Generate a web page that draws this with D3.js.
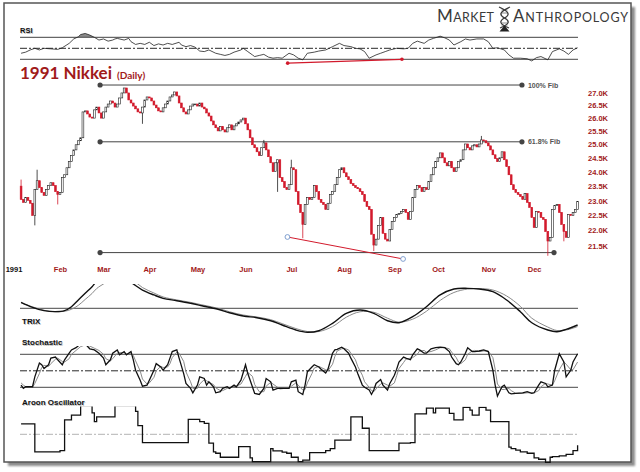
<!DOCTYPE html>
<html><head><meta charset="utf-8">
<script src="https://cdn.jsdelivr.net/npm/d3@7/dist/d3.min.js"></script>
<style>body{margin:0;background:#fff}svg{display:block}</style>
</head><body>
<svg id="c" width="640" height="472"></svg>
<script>
// ---------------- DATA ----------------
const firstDay = 2;
const firstOpen = 23500;
const closes = [
23040,22940,23110,23010,22910,22500,23380,23690,23450,23280,23180,23380,23520,23620,23520,23310,23210,
23280,23800,23900,24150,24370,24590,24800,24990,25140,25250,26240,26280,26160,26040,26000,26320,26430,26200,26000,
26240,26430,26550,26670,26590,26430,26550,26790,26990,27190,26990,26710,26590,26470,26360,26240,26200,26430,26710,26830,
26790,26670,26510,26400,26280,26240,26400,26550,26670,26830,26910,27030,26870,26590,26400,26240,26160,26320,26470,26550,26550,
26470,26590,26430,26360,26200,26080,25890,25740,25630,25510,25670,25550,25470,25630,25740,25550,25700,25780,25850,25930,26000,
25780,25550,25250,24990,24880,24730,24590,24880,25060,24800,24550,24330,24010,24330,24440,23800,23660,23450,23380,23550,
24150,24080,23310,22870,22600,22200,22870,23110,23040,23110,23520,23310,23040,22940,22870,22700,22910,23210,23310,23550,23800,24080,24150,
23970,23830,23730,23590,23520,23450,23410,23310,23210,22970,22800,22700,21880,21530,21720,22170,22430,21910,21720,21660,22040,22300,
22430,22530,22570,22630,22700,22600,22370,22630,23110,23380,23520,23450,23310,23450,23380,23660,23900,24150,24370,
24510,24690,24510,24330,24220,24370,24150,24010,24150,24370,24440,24800,25020,24880,24800,24950,24990,24910,25020,25170,25140,25060,
24950,24800,24620,24480,24370,24510,24730,24440,24190,23900,23550,23380,23280,23210,23140,23040,23240,22940,22770,22430,
22100,22630,22600,22430,22370,21970,21660,21780,22700,22840,22870,22600,22200,21970,21780,22530,22500,22600,22700,22970
];
// [day, high, low] for the visible long wicks
const wicks = [[2,23730,null],[8,null,22170],[9,24080,null],[18,null,22870],[55,null,25780],[108,25170,null],
  [114,null,23300],[120,24440,null],[125,null,21750],[156,null,21340],[203,25320,null],[232,null,21190],[239,null,21650]];

const monthStarts = [0,19,38,58,79,100,120,143,165,184,206,226];
const monthLabels = ['1991','Feb','Mar','Apr','May','Jun','Jul','Aug','Sep','Oct','Nov','Dec'];
const priceTicks = [21500,22000,22500,23000,23500,24000,24500,25000,25500,26000,26500,27000];

const fibLevels = [27310,25100,21290];
const fibLabels = ['100% Fib','61.8% Fib',''];
const fibStartDay = 36.5;
const fibEndDays = [220.7,220.7,234.7];
const priceTrend = [[118.3,21790],[168.8,21090]];

const rsiDays = [2,4,6,8,10,12,15,18,20,23,25,27,28,30,32,34,36,38,40,42,43,44,47,49,50,52,54,56,58,60,62,64,66,68,71,72,74,76,78,80,82,84,87,89,91,93,95,98,99,101,103,104,106,108,110,112,114,116,119,121,123,125,126,127,130,132,135,138,141,143,146,148,150,152,154,157,159,161,163,166,169,171,173,175,178,180,182,185,187,189,191,194,196,198,201,204,206,208,210,213,215,217,220,223,225,227,229,232,234,237,239,241,243,245];
const rsiVals = [41,43,47,50,47,50,49,48,51,59,67,71,75,77,74,70,65,67,63,65,67,68,65,68,62,57,59,57,61,55,58,56,59,57,61,56,53,55,52,45,44,47,41,39,37,39,43,47,50,44,38,35,37,39,34,32,33,32,41,38,32,29,35,41,43,45,47,53,59,55,53,50,49,44,32,38,41,44,47,50,49,50,59,63,59,65,68,72,69,65,56,62,67,65,67,67,62,50,51,47,38,32,32,31,27,33,35,29,44,49,45,39,47,51];
const rsiTrend = [[118.4,23],[168.3,30]];

const trixDays = [2,7,12,17,21,24,27,30,33,35,39,43,47,51,55,60,64,70,76,81,88,93,99,105,111,116,122,127,132,138,144,150,156,162,167,173,179,185,191,197,202,208,214,220,225,232,236,240,245];
const trixVals = [0.061,0.010,-0.024,-0.034,-0.024,0.016,0.084,0.152,0.219,0.27,0.31,0.33,0.31,0.246,0.185,0.135,0.101,0.077,0.051,0.026,-0.010,-0.045,-0.078,-0.095,-0.126,-0.169,-0.220,-0.243,-0.227,-0.152,-0.051,-0.017,-0.051,-0.126,-0.146,-0.085,0.016,0.135,0.195,0.202,0.195,0.168,0.084,-0.034,-0.146,-0.220,-0.237,-0.213,-0.169];
const trixSignal = [0.055,0.015,-0.020,-0.035,-0.030,-0.010,0.030,0.090,0.150,0.200,0.26,0.31,0.32,0.28,0.21,0.155,0.115,0.085,0.060,0.035,0.000,-0.035,-0.068,-0.088,-0.115,-0.155,-0.205,-0.235,-0.235,-0.185,-0.090,-0.035,-0.040,-0.100,-0.140,-0.110,-0.030,0.080,0.160,0.195,0.200,0.185,0.125,0.020,-0.100,-0.190,-0.225,-0.220,-0.185];

const stochDays = [2,3,4,7,8,10,11,12,14,15,17,18,20,21,23,24,26,28,30,32,34,36,38,39,41,42,44,45,47,48,50,51,52,54,55,57,58,60,61,63,64,66,67,68,70,71,73,74,76,77,79,80,82,83,84,86,87,89,90,92,93,95,96,98,100,101,103,104,106,108,109,111,112,114,115,117,119,120,122,123,125,126,127,129,130,132,133,135,136,138,139,140,142,143,145,146,148,149,151,152,154,155,156,157,159,160,162,163,165,166,167,169,170,172,173,175,176,178,179,181,183,185,187,189,190,192,193,194,196,197,199,200,202,204,206,208,209,210,212,213,215,216,218,221,223,225,226,228,229,231,232,234,235,237,239,240,242,243,245];
const stochK = [24,18,21,21,39,64,61,54,61,73,75,70,61,70,82,88,92,99,99,90,88,82,73,61,70,82,88,79,85,79,85,70,51,33,22,24,33,51,63,57,51,61,73,85,88,73,45,27,18,10,24,39,36,24,30,21,10,12,18,21,18,24,21,33,61,45,21,9,7,18,36,30,15,18,18,18,18,30,33,12,7,24,48,57,61,57,53,46,53,82,88,89,93,90,82,73,57,45,24,20,15,7,15,27,34,24,15,27,42,53,66,75,73,70,79,90,88,82,82,90,92,93,92,85,75,63,61,66,82,92,85,85,86,88,85,51,24,4,21,24,10,8,9,10,12,9,10,24,30,27,21,24,51,81,66,39,51,66,81];
const stochD = [28,24,21,20,27,45,56,60,58,63,71,73,67,66,72,80,87,94,97,95,91,87,80,72,68,72,82,83,83,81,82,78,68,50,35,26,28,38,50,58,56,57,63,74,84,82,67,48,30,18,18,26,34,32,29,25,19,14,14,18,19,21,22,26,40,47,40,25,12,12,22,29,26,20,17,18,18,22,28,24,15,16,28,45,55,58,56,52,50,62,76,86,90,91,88,82,70,58,42,30,20,14,12,17,26,28,24,22,28,41,54,65,71,73,74,80,86,87,84,85,88,92,92,90,84,74,66,63,70,80,86,87,85,86,86,74,53,26,16,16,18,14,9,9,10,10,10,14,21,27,26,24,32,52,66,62,52,52,66];

const aroonDays = [2,8,19,21,24,28,33,34,35,43,52,53,55,75,80,82,84,86,87,89,97,102,103,111,112,116,118,120,123,125,128,135,137,139,146,151,154,167,172,174,179,182,183,189,191,195,198,199,202,205,207,215,216,218,220,223,226,228,231,233,234,237,240,243,245];
const aroonVals = [36,-61,-57,50,67,100,75,44,61,100,80,30,-29,52,44,38,-31,-61,-66,-80,-43,-82,-95,-50,-58,-62,-66,-80,-95,-90,-64,-57,-50,-20,61,21,-57,-31,-29,71,91,75,91,73,50,94,84,67,94,84,44,-45,-50,-55,-61,-66,-82,-87,-98,-80,-78,-75,-70,-57,-38];

// ---------------- DRAW ----------------
const svg = d3.select('#c');
const RED = '#d21a2c', DARKRED = '#a11a1a', INK = '#333';
const defs = svg.append('defs');
defs.append('filter').attr('id','blur').append('feGaussianBlur').attr('stdDeviation',1.2);
function clip(id,x0,y0,w,h){defs.append('clipPath').attr('id',id).append('rect').attr('x',x0).attr('y',y0).attr('width',w).attr('height',h);}

// frame
svg.append('rect').attr('x',8).attr('y',7).attr('width',627).attr('height',459).attr('fill','#8c8c8c').attr('filter','url(#blur)');
svg.append('rect').attr('x',4).attr('y',3).attr('width',627).attr('height',459).attr('fill','#fff').attr('stroke','#555').attr('stroke-width',1.5);

const x = d3.scaleLinear().domain([0,245]).range([16.5,577.6]);
const yP = d3.scaleLog().domain([21500,27000]).range([246,92.7]);
const yR = d3.scaleLinear().domain([30,70]).range([59.3,37.3]);
const yT = d3.scaleLinear().domain([-0.25,0.25]).range([333,283.6]);
const yS = d3.scaleLinear().domain([20,80]).range([387.3,354.3]);
const yA = d3.scaleLinear().domain([-100,100]).range([463,405.6]);
const gx0 = 20, gx1 = 578;

function guide(y, dash, color, w){
  svg.append('line').attr('x1',gx0).attr('x2',gx1).attr('y1',y).attr('y2',y)
    .attr('stroke',color||INK).attr('stroke-width',w||0.9).attr('stroke-dasharray',dash||null);
}
function label(t, x0, y0, size){
  svg.append('text').attr('x',x0+0.8).attr('y',y0+0.8).text(t).attr('font-family','Liberation Sans, Arial, sans-serif')
    .attr('font-weight','bold').attr('font-size',size).attr('fill','#c4c4c4');
  svg.append('text').attr('x',x0).attr('y',y0).text(t).attr('font-family','Liberation Sans, Arial, sans-serif')
    .attr('font-weight','bold').attr('font-size',size).attr('fill','#111');
}

// logo
const logoFont = 'Lato, "Noto Sans", sans-serif';
const lt1 = svg.append('text').attr('x',437).attr('y',22).attr('font-family',logoFont).attr('fill','#3a3a3a')
  .attr('textLength',57).attr('lengthAdjust','spacing');
lt1.append('tspan').attr('font-size',17).text('M');
lt1.append('tspan').attr('font-size',12.5).text('ARKET');
const lt2 = svg.append('text').attr('x',513).attr('y',22).attr('font-family',logoFont).attr('fill','#3a3a3a')
  .attr('textLength',115).attr('lengthAdjust','spacing');
lt2.append('tspan').attr('font-size',17).text('A');
lt2.append('tspan').attr('font-size',12.5).text('NTHROPOLOGY');
const dna = svg.append('g').attr('fill','none').attr('stroke','#3a3a3a').attr('stroke-width',1.3);
dna.append('path').attr('d','M499,7 C510,12 510,15 504.5,18 C499,21 499,24 509,28');
dna.append('path').attr('d','M510,7 C499,12 499,15 504.5,18 C510,21 510,24 500,28');
[10,13,23,26].forEach(yy=>dna.append('line').attr('x1',501.5).attr('x2',507.5).attr('y1',yy).attr('y2',yy).attr('stroke-width',0.6));
svg.append('path').attr('d','M499.5,31.5 L509.5,31.5 L504.5,25.5 Z').attr('fill','#222');

// ---- RSI panel
label('RSI',20,33,7.5);
clip('cRfill',15,20,570,yR(70)-20);
svg.append('path').datum(rsiDays.map((d,i)=>[d,rsiVals[i]]))
  .attr('clip-path','url(#cRfill)').attr('fill','#8a8a8a')
  .attr('d',d3.area().x(d=>x(d[0])).y0(yR(70)).y1(d=>yR(d[1])));
guide(yR(70)); guide(yR(30)); guide(yR(50),'7,2,2,2','#111');
svg.append('path').datum(rsiDays.map((d,i)=>[d,rsiVals[i]]))
  .attr('fill','none').attr('stroke','#222').attr('stroke-width',0.8)
  .attr('d',d3.line().x(d=>x(d[0])).y(d=>yR(d[1])));
svg.append('line').attr('x1',x(rsiTrend[0][0])).attr('y1',yR(rsiTrend[0][1])).attr('x2',x(rsiTrend[1][0])).attr('y2',yR(rsiTrend[1][1]))
  .attr('stroke',RED).attr('stroke-width',1.2);
rsiTrend.forEach(p=>svg.append('circle').attr('cx',x(p[0])).attr('cy',yR(p[1])).attr('r',1.8).attr('fill',RED));

// ---- Title
const title = svg.append('text').attr('x',20).attr('y',79).attr('font-family','Lato, sans-serif').attr('font-weight','bold').attr('fill',DARKRED);
title.append('tspan').attr('font-size',17).text('1991 Nikkei');
title.append('tspan').attr('font-size',10).attr('dx',5).text('(Daily)');

// ---- Fib lines
fibLevels.forEach((lv,i)=>{
  const yy = yP(lv);
  svg.append('line').attr('x1',x(fibStartDay)).attr('x2',x(fibEndDays[i])).attr('y1',yy).attr('y2',yy).attr('stroke','#444').attr('stroke-width',1);
  svg.append('circle').attr('cx',x(fibStartDay)).attr('cy',yy).attr('r',2.6).attr('fill','#444');
  svg.append('circle').attr('cx',x(fibEndDays[i])).attr('cy',yy).attr('r',2.6).attr('fill','#444');
  if(fibLabels[i]) svg.append('text').attr('x',x(fibEndDays[i])+6).attr('y',yy+2.5).text(fibLabels[i])
    .attr('font-family','Liberation Sans, Arial, sans-serif').attr('font-weight','bold').attr('font-size',7).attr('fill','#555');
});

// ---- Candles
const wickMap = new Map(wicks.map(w=>[w[0],w]));
const candles = closes.map((c,k)=>{
  const day = firstDay+k, o = k ? closes[k-1] : firstOpen;
  const w = wickMap.get(day);
  let hi = Math.max(o,c), lo = Math.min(o,c);
  if(w){ if(w[1]!=null) hi = Math.max(hi,w[1]); if(w[2]!=null) lo = Math.min(lo,w[2]); }
  return {day,o,c,hi,lo,up:c>=o};
});
const cg = svg.append('g');
cg.selectAll('line.wick').data(candles).join('line').attr('class','wick')
  .attr('x1',d=>x(d.day)).attr('x2',d=>x(d.day)).attr('y1',d=>yP(d.hi)).attr('y2',d=>yP(d.lo))
  .attr('stroke',d=>d.up?'#222':RED).attr('stroke-width',0.8);
cg.selectAll('rect').data(candles).join('rect')
  .attr('x',d=>x(d.day)-0.9).attr('width',1.8)
  .attr('y',d=>yP(Math.max(d.o,d.c)))
  .attr('height',d=>Math.max(0.8,Math.abs(yP(d.o)-yP(d.c))))
  .attr('fill',d=>d.up?'#fff':RED)
  .attr('stroke',d=>d.up?'#222':RED).attr('stroke-width',0.6);

// trend line on price
svg.append('line').attr('x1',x(priceTrend[0][0])).attr('y1',yP(priceTrend[0][1])).attr('x2',x(priceTrend[1][0])).attr('y2',yP(priceTrend[1][1]))
  .attr('stroke',RED).attr('stroke-width',1);
priceTrend.forEach(p=>svg.append('circle').attr('cx',x(p[0])).attr('cy',yP(p[1])).attr('r',2.4).attr('fill','#fff').attr('stroke','#7f9fd0').attr('stroke-width',1));

// price axis
const pa = svg.append('g').attr('transform','translate(586,0)')
  .call(d3.axisRight(yP).tickValues(priceTicks).tickFormat(d=>(d/1000).toFixed(1)+'K').tickSize(0).tickPadding(2));
pa.select('.domain').remove();
pa.selectAll('text').attr('font-family','Liberation Sans, Arial, sans-serif').attr('font-weight','bold').attr('font-size',7.5).attr('fill',DARKRED);

// month axis
const ma = svg.append('g').attr('transform','translate(0,272)')
  .call(d3.axisBottom(x).tickValues(monthStarts).tickFormat((d,i)=>monthLabels[i]).tickSize(0).tickPadding(0));
ma.select('.domain').remove();
ma.selectAll('text').attr('y',0).attr('dy',0).attr('font-family','Liberation Sans, Arial, sans-serif').attr('font-weight','bold')
  .attr('font-size',7.5).attr('fill',(d,i)=>i===0?'#111':DARKRED).attr('dx',(d,i)=>i===0?-3:0);

// ---- TRIX panel
guide(yT(0));
clip('cT',15,284,570,56);
const tl = d3.line().x(d=>x(d[0])).y(d=>yT(d[1])).curve(d3.curveCatmullRom.alpha(0.5));
svg.append('path').datum(trixDays.map((d,i)=>[d,trixSignal[i]])).attr('clip-path','url(#cT)')
  .attr('fill','none').attr('stroke','#8a8a8a').attr('stroke-width',1).attr('d',tl);
svg.append('path').datum(trixDays.map((d,i)=>[d,trixVals[i]])).attr('clip-path','url(#cT)')
  .attr('fill','none').attr('stroke','#111').attr('stroke-width',1.4).attr('d',tl);
label('TRIX',22,324,8);

// ---- Stochastic panel
guide(yS(80)); guide(yS(20)); guide(yS(50),'7,2,2,2','#111');
clip('cS',15,346,570,55);
const sl = d3.line().x(d=>x(d[0])).y(d=>yS(d[1]));
svg.append('path').datum(stochDays.map((d,i)=>[d,stochD[i]])).attr('clip-path','url(#cS)')
  .attr('fill','none').attr('stroke','#8a8a8a').attr('stroke-width',1).attr('d',sl);
svg.append('path').datum(stochDays.map((d,i)=>[d,stochK[i]])).attr('clip-path','url(#cS)')
  .attr('fill','none').attr('stroke','#111').attr('stroke-width',1.3).attr('d',sl);
label('Stochastic',22,345,8);

// ---- Aroon panel
guide(yA(0),'7,2,2,2','#aaa',0.9);
clip('cA',15,406.5,570,58);
svg.append('path').datum(aroonDays.map((d,i)=>[d,aroonVals[i]])).attr('clip-path','url(#cA)')
  .attr('fill','none').attr('stroke','#111').attr('stroke-width',1.3)
  .attr('d',d3.line().x(d=>x(d[0])).y(d=>yA(d[1])).curve(d3.curveStepAfter));
label('Aroon Oscillator',22,405,8);
</script>
</body></html>
